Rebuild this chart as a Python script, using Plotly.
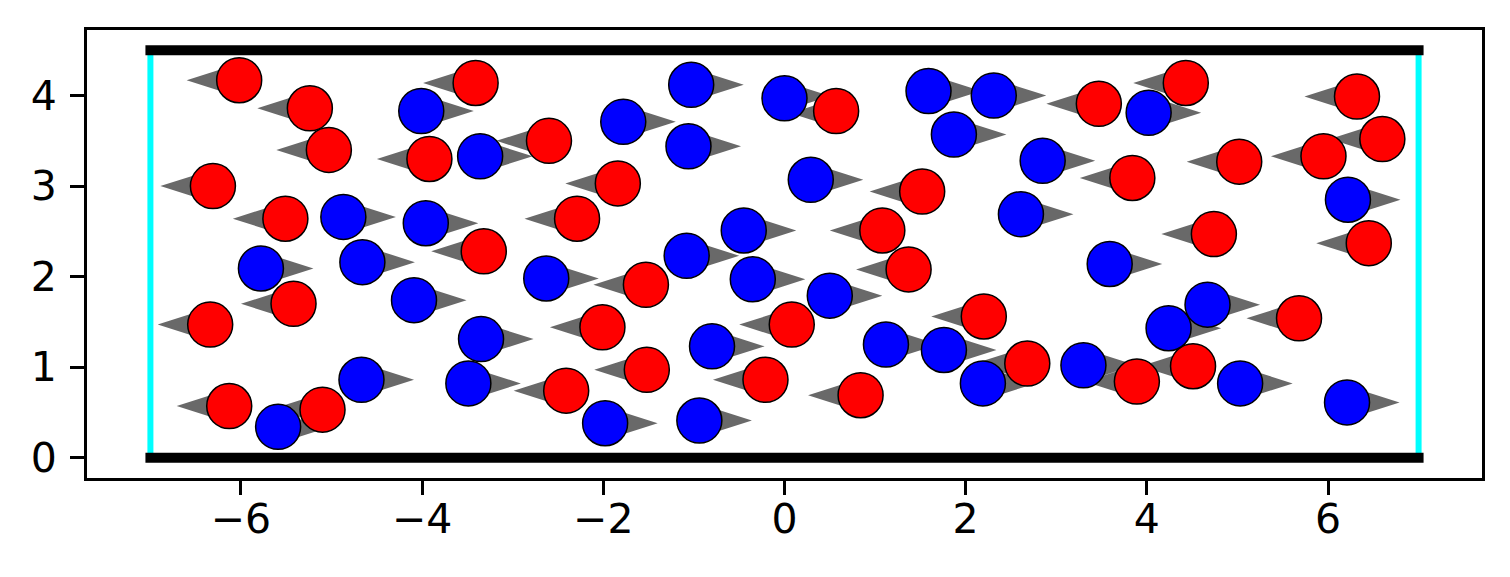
import plotly.graph_objects as go

# ---- data ----
box_half_width = 7.0
box_height = 4.5

red_x = [-6.02, -5.24, -5.03, -6.31, -5.51, -3.92, -3.41, -2.60, -1.84, -2.29,
         -3.32, 0.57, 3.47, 3.84, 1.52, 1.08, 4.43, 6.32, 6.60, 5.02,
         5.95, 4.74, 6.45, -5.42, -6.34, -6.13, -5.10, -1.53, -2.01, 0.08,
         -1.52, -2.41, -0.21, 1.37, 2.20, 2.68, 3.89, 0.84, 5.68, 4.51]
red_y = [4.17, 3.86, 3.40, 3.00, 2.64, 3.30, 4.14, 3.50, 3.03, 2.64,
         2.28, 3.83, 3.91, 3.09, 2.94, 2.51, 4.14, 3.99, 3.52, 3.27,
         3.33, 2.47, 2.37, 1.70, 1.47, 0.57, 0.53, 1.91, 1.44, 1.47,
         0.97, 0.74, 0.86, 2.08, 1.56, 1.04, 0.84, 0.69, 1.54, 1.01]

blue_x = [-4.87, -4.01, -3.96, -3.36, -1.03, -1.78, -1.06, 0.00, 0.29, -0.45,
          1.59, 2.31, 1.87, 4.02, 2.85, 2.61, 6.22, -5.78, -4.66, -4.09,
          -4.67, -5.59, -2.63, -1.08, -0.35, -3.35, -0.80, -3.49, -1.98, -0.94,
          0.50, 3.59, 1.12, 1.76, 2.19, 3.30, 4.24, 4.67, 5.03, 6.21]
blue_y = [2.66, 3.83, 2.59, 3.33, 4.12, 3.71, 3.44, 3.97, 3.07, 2.51,
          4.05, 4.00, 3.57, 3.81, 3.28, 2.69, 2.85, 2.09, 2.16, 1.74,
          0.86, 0.34, 1.98, 2.23, 1.97, 1.31, 1.23, 0.82, 0.38, 0.41,
          1.79, 2.14, 1.25, 1.19, 0.82, 1.02, 1.43, 1.69, 0.82, 0.61]

red_dir = -1   # red particles move left
blue_dir = 1   # blue particles move right

x_ticks = [-6, -4, -2, 0, 2, 4, 6]
y_ticks = [0, 1, 2, 3, 4]

# ---- styling ----
arrow_len = 0.58
arrow_half_w = 0.185
arrow_color = "#696969"
font_family = "DejaVu Sans"


def arrow_polys(xs, ys, d):
    px, py = [], []
    for x, y in zip(xs, ys):
        px += [x, x, x + d * arrow_len, x, None]
        py += [y + arrow_half_w, y - arrow_half_w, y, y + arrow_half_w, None]
    return px, py


fig = go.Figure()

# side walls (cyan)
for sx in (-box_half_width, box_half_width):
    fig.add_trace(go.Scatter(x=[sx, sx], y=[0, box_height], mode="lines",
                             line=dict(color="cyan", width=6),
                             hoverinfo="skip", showlegend=False))

# top/bottom walls (black, projecting caps)
cap = 0.055
for wy in (0, box_height):
    fig.add_trace(go.Scatter(x=[-box_half_width - cap, box_half_width + cap], y=[wy, wy],
                             mode="lines", line=dict(color="black", width=10),
                             hoverinfo="skip", showlegend=False))

# velocity arrows (under the particles)
ax_, ay_ = arrow_polys(red_x, red_y, red_dir)
bx_, by_ = arrow_polys(blue_x, blue_y, blue_dir)
fig.add_trace(go.Scatter(x=ax_ + bx_, y=ay_ + by_, mode="lines", fill="toself",
                         fillcolor=arrow_color, line=dict(width=0, color=arrow_color),
                         hoverinfo="skip", showlegend=False))

# particles
fig.add_trace(go.Scatter(x=red_x, y=red_y, mode="markers",
                         marker=dict(size=45, color="red", line=dict(color="black", width=1.5)),
                         showlegend=False))
fig.add_trace(go.Scatter(x=blue_x, y=blue_y, mode="markers",
                         marker=dict(size=45, color="blue", line=dict(color="black", width=1.5)),
                         showlegend=False))

axis_common = dict(showgrid=False, zeroline=False, showline=True, mirror=True,
                   linecolor="black", linewidth=3, ticks="outside", ticklen=14,
                   tickwidth=3, tickcolor="black",
                   tickfont=dict(family=font_family, size=41, color="black"))

fig.update_layout(
    width=1510, height=577,
    margin=dict(l=87, r=28, t=30, b=99),
    paper_bgcolor="white", plot_bgcolor="white",
    xaxis=dict(range=[-7.7, 7.7], tickvals=x_ticks, ticklabelstandoff=-11, **axis_common),
    yaxis=dict(range=[-0.225, 4.725], tickvals=y_ticks, ticklabelstandoff=5, **axis_common),
)

fig.write_html("out.html", config={"displayModeBar": False},
               post_script="document.body.style.margin='0';document.body.style.overflow='hidden';")
